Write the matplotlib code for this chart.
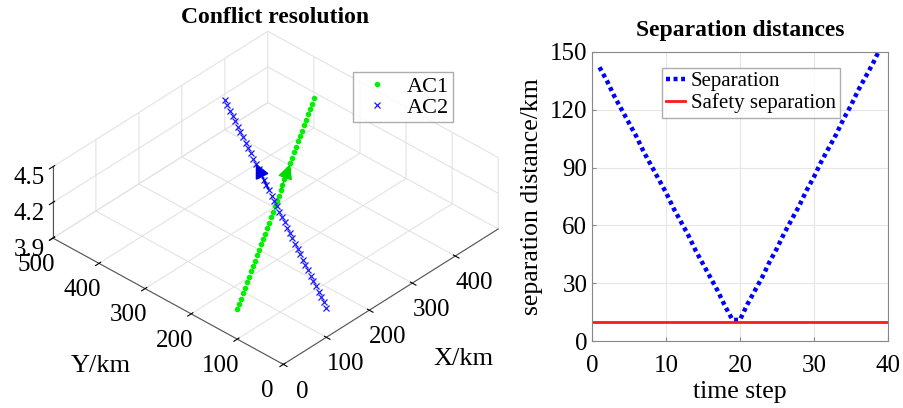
import matplotlib
matplotlib.use("Agg")
import matplotlib.pyplot as plt
from mpl_toolkits.mplot3d import proj3d

plt.rcParams['font.family'] = ['Liberation Serif', 'DejaVu Serif']
plt.rcParams['grid.color'] = '#e6e6e6'
plt.rcParams['grid.linewidth'] = 0.8

# trajectories (km), 40 points each
ac1_x = [0.0, 12.8, 25.6, 38.5, 51.3, 64.1, 76.9, 89.7, 102.6, 115.4,
         128.2, 141.0, 153.8, 166.7, 179.5, 192.3, 205.1, 217.9, 230.8, 243.6,
         256.4, 269.2, 282.1, 294.9, 307.7, 320.5, 333.3, 346.2, 359.0, 371.8,
         384.6, 397.4, 410.3, 423.1, 435.9, 448.7, 461.5, 474.4, 487.2, 500.0]
ac1_y = [100.0, 107.7, 115.4, 123.1, 130.8, 138.5, 146.2, 153.8, 161.5, 169.2,
         176.9, 184.6, 192.3, 200.0, 207.7, 215.4, 223.1, 230.8, 238.5, 246.2,
         253.8, 261.5, 269.2, 276.9, 284.6, 292.3, 300.0, 307.7, 315.4, 323.1,
         330.8, 338.5, 346.2, 353.8, 361.5, 369.2, 376.9, 384.6, 392.3, 400.0]
ac2_x = [100.0, 107.7, 115.4, 123.1, 130.8, 138.5, 146.2, 153.8, 161.5, 169.2,
         176.9, 184.6, 192.3, 200.0, 207.7, 215.4, 223.1, 230.8, 238.5, 246.2,
         253.8, 261.5, 269.2, 276.9, 284.6, 292.3, 300.0, 307.7, 315.4, 323.1,
         330.8, 338.5, 346.2, 353.8, 361.5, 369.2, 376.9, 384.6, 392.3, 400.0]
ac2_y = [0.0, 12.8, 25.6, 38.5, 51.3, 64.1, 76.9, 89.7, 102.6, 115.4,
         128.2, 141.0, 153.8, 166.7, 179.5, 192.3, 205.1, 217.9, 230.8, 243.6,
         256.4, 269.2, 282.1, 294.9, 307.7, 320.5, 333.3, 346.2, 359.0, 371.8,
         384.6, 397.4, 410.3, 423.1, 435.9, 448.7, 461.5, 474.4, 487.2, 500.0]
altitude = 4.15

# direction arrows: (tail, tip)
ac1_arrow = [(284.0, 270.0), (344.0, 306.0)]
ac2_arrow = [(271.0, 285.0), (308.0, 347.0)]

# separation over time
time_step = list(range(1, 40))
separation = [142, 135, 127, 120, 113, 106, 98, 91, 84, 77,
              69, 62, 55, 47, 40, 33, 26, 18, 11, 11,
              19, 26, 33, 41, 48, 56, 63, 70, 78, 85,
              93, 100, 107, 115, 122, 130, 137, 144, 152]
safety = 10

fig = plt.figure(figsize=(9.04, 4.08), dpi=100)

# ---- 3D trajectories ----
ax = fig.add_axes([-0.032, -0.06, 0.66, 1.12], projection='3d')
ax.set_proj_type('ortho')
ax.view_init(elev=36, azim=-137)
ax.set_box_aspect((1, 1, 0.28), zoom=0.965)

ax.plot(ac1_x, ac1_y, [altitude] * len(ac1_x), '.', color=(0, 0.95, 0),
        ms=6, label='AC1')
ax.plot(ac2_x, ac2_y, [altitude] * len(ac2_x), 'x', color=(0.1, 0.1, 1),
        ms=4, mew=0.9, label='AC2')

ax.set_xlim(0, 500)
ax.set_ylim(0, 500)
ax.set_zlim(3.9, 4.5)
ax.set_xticks([0, 100, 200, 300, 400])
ax.set_yticks([0, 100, 200, 300, 400, 500])
ax.set_zticks([3.9, 4.2, 4.5])
ax.set_zticklabels(['3.9', '4.2', '4.5'])

for a in (ax.xaxis, ax.yaxis, ax.zaxis):
    a.pane.set_facecolor('white')
    a.pane.set_edgecolor('white')
    a.line.set_color('#555555')
    a._axinfo['grid']['color'] = '#e3e3e3'
    a._axinfo['grid']['linewidth'] = 0.8
    a._axinfo['tick']['color'] = '#555555'
ax.tick_params(labelsize=18)
ax.tick_params(axis='x', pad=6)
ax.tick_params(axis='y', pad=5)
ax.tick_params(axis='z', pad=1)
ax.set_xlabel('X/km', fontsize=19, labelpad=33)
ax.set_ylabel('Y/km', fontsize=19, labelpad=33)
fig.text(0.304, 0.958, 'Conflict resolution', fontsize=17, fontweight='bold',
         ha='center', va='center')

leg = ax.legend(loc='upper left', bbox_to_anchor=(0.3905, 0.8235),
                bbox_transform=fig.transFigure, fontsize=16,
                frameon=True, fancybox=False, edgecolor='#999999',
                handlelength=1.8, handletextpad=0.4, borderpad=0.2,
                labelspacing=0.0, borderaxespad=0)

fig.canvas.draw()
M = ax.get_proj()
for arr, col in ((ac1_arrow, (0, 0.85, 0)), (ac2_arrow, (0, 0, 0.9))):
    (x0, y0), (x1, y1) = arr
    px0, py0, _ = proj3d.proj_transform(x0, y0, altitude, M)
    px1, py1, _ = proj3d.proj_transform(x1, y1, altitude, M)
    ax.annotate('', xy=(px1, py1), xytext=(px0, py0),
                arrowprops=dict(arrowstyle='-|>', color=col, lw=1.2,
                                mutation_scale=22, shrinkA=0, shrinkB=0))

# ---- separation distances ----
ax2 = fig.add_axes([0.655, 0.164, 0.327, 0.709])
ax2.plot(time_step, separation, color='blue', lw=3.2,
         linestyle=(0, (0.9, 0.8)), label='Separation')
ax2.axhline(safety, color=(1, 0.1, 0.1), lw=2, label='Safety separation')
ax2.set_xlim(0, 40)
ax2.set_ylim(0, 150)
ax2.set_xticks([0, 10, 20, 30, 40])
ax2.set_yticks([0, 30, 60, 90, 120, 150])
ax2.grid(True, color='#e6e6e6', lw=0.8)
for s in ax2.spines.values():
    s.set_color('#888888')
ax2.tick_params(labelsize=18, direction='in', length=3, color='#888888')
ax2.tick_params(axis='x', pad=10)
ax2.set_xlabel('time step', fontsize=18.5, labelpad=3)
ax2.set_ylabel('separation distance/km', fontsize=18.5, labelpad=5)
fig.text(0.8186, 0.926, 'Separation distances', fontsize=17,
         fontweight='bold', ha='center', va='center')
ax2.legend(loc='upper left', bbox_to_anchor=(0.236, 0.945), fontsize=15,
           fancybox=False, edgecolor='#999999', handlelength=0.9,
           handletextpad=0.3, borderpad=0.2, labelspacing=0.1,
           borderaxespad=0)

fig.savefig('out.png', dpi=100)
